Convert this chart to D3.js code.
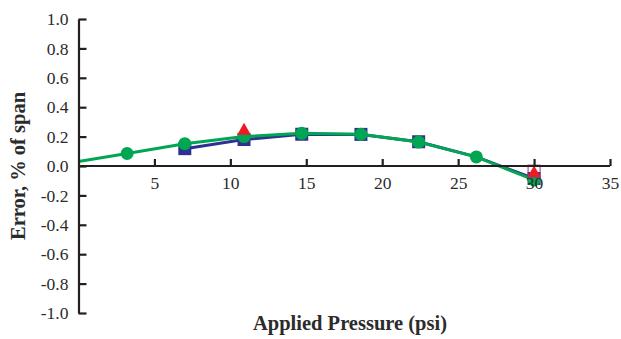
<!DOCTYPE html>
<html lang="en">
<head>
  <meta charset="utf-8" />
  <title>Error vs Applied Pressure</title>
  <script src="https://cdn.jsdelivr.net/npm/d3@7"></script>
  <style>
    body { margin: 0; background: white; }
    svg text { font-family: "Liberation Serif", "DejaVu Serif", serif; fill: #2b2b2b; }
    .axis path, .axis line { stroke: #231f20; stroke-width: 2.2; }
  </style>
</head>
<body>
<script>
// pressure (psi) and error (% of span) for each run
var greenX = [0, 3.2, 7.0, 10.9, 14.7, 18.6, 22.4, 26.2, 30.0];
var greenY = [0.03, 0.085, 0.152, 0.2, 0.222, 0.216, 0.163, 0.062, -0.095];
var blueX = [7.0, 10.9, 14.7, 18.6, 22.4, 26.2, 30.0];
var blueY = [0.118, 0.18, 0.216, 0.215, 0.165, 0.062, -0.085];
var redX = [10.9, 30.0];
var redY = [0.24, -0.05];
var pinkX = [30.0];
var pinkY = [-0.035];
var xTicks = [5, 10, 15, 20, 25, 30, 35];
var yTicks = [-1.0, -0.8, -0.6, -0.4, -0.2, 0.0, 0.2, 0.4, 0.6, 0.8, 1.0];

var w = 621, h = 339;
var pad = {left: 78.5, right: 11, top: 19, bottom: 26};

var x = d3.scaleLinear().domain([0, 35]).range([pad.left, w - pad.right]);
var y = d3.scaleLinear().domain([-1, 1]).range([h - pad.bottom, pad.top]);

var svg = d3.select("body").append("svg")
  .attr("width", w)
  .attr("height", h);

function pts(xs, ys) {
  return xs.map(function(d, i) { return [d, ys[i]]; });
}
var line = d3.line()
  .x(function(d) { return x(d[0]); })
  .y(function(d) { return y(d[1]); });

var blue = pts(blueX, blueY);
var green = pts(greenX, greenY);
var red = pts(redX, redY);
var pink = pts(pinkX, pinkY);

// blue run (the square at 26.2 is covered by the green point)
svg.append("path").attr("d", line(blue))
  .attr("fill", "none").attr("stroke", "#2e3192").attr("stroke-width", 3);
svg.selectAll("rect.blue").data(blue.filter(function(d) { return d[0] !== 26.2; }))
  .enter().append("rect")
  .attr("class", "blue")
  .attr("x", function(d) { return x(d[0]) - 6.5; })
  .attr("y", function(d) { return y(d[1]) - 6.5; })
  .attr("width", 13).attr("height", 13)
  .attr("fill", "#2e3192");

// green run
svg.append("path").attr("d", line(green))
  .attr("fill", "none").attr("stroke", "#00a651").attr("stroke-width", 3);
svg.selectAll("circle.green").data(green.slice(1)).enter().append("circle")
  .attr("class", "green")
  .attr("cx", function(d) { return x(d[0]); })
  .attr("cy", function(d) { return y(d[1]); })
  .attr("r", 6.5)
  .attr("fill", "#00a651");

// red run
svg.selectAll("path.red").data(red).enter().append("path")
  .attr("class", "red")
  .attr("d", d3.symbol().type(d3.symbolTriangle).size(80))
  .attr("transform", function(d) { return "translate(" + x(d[0]) + "," + y(d[1]) + ")"; })
  .attr("fill", "#ed1c24");

// pink run
svg.selectAll("rect.pink").data(pink).enter().append("rect")
  .attr("class", "pink")
  .attr("x", function(d) { return x(d[0]) - 6; })
  .attr("y", function(d) { return y(d[1]) - 6; })
  .attr("width", 12).attr("height", 12)
  .attr("fill", "none").attr("stroke", "#a3336b").attr("stroke-width", 1);

// axes
var xAxis = d3.axisBottom(x)
  .tickValues(xTicks)
  .tickSizeInner(-7)
  .tickSizeOuter(0)
  .tickPadding(11)
  .tickFormat(d3.format("d"));
var yAxis = d3.axisLeft(y)
  .tickValues(yTicks)
  .tickSizeInner(-8)
  .tickSizeOuter(0)
  .tickPadding(10)
  .tickFormat(function(d) { return d.toFixed(1); });

svg.append("g").attr("class", "axis")
  .attr("transform", "translate(0," + y(0) + ")")
  .call(xAxis)
  .call(function(g) {
    g.select(".domain").attr("d", "M" + x(0) + ",0H" + x(35));
    g.selectAll("text").style("font-size", "17.5px").attr("fill", "#2b2b2b");
  });
svg.append("g").attr("class", "axis")
  .attr("transform", "translate(" + x(0) + ",0)")
  .call(yAxis)
  .call(function(g) {
    g.selectAll("text").style("font-size", "17.5px").attr("fill", "#2b2b2b");
  });

svg.append("text")
  .attr("x", 350).attr("y", 330)
  .attr("text-anchor", "middle")
  .style("font-size", "20.5px").style("font-weight", "bold")
  .text("Applied Pressure (psi)");
svg.append("text")
  .attr("transform", "translate(25," + y(0) + ") rotate(-90)")
  .attr("text-anchor", "middle")
  .style("font-size", "20.5px").style("font-weight", "bold")
  .text("Error, % of span");
</script>
</body>
</html>
